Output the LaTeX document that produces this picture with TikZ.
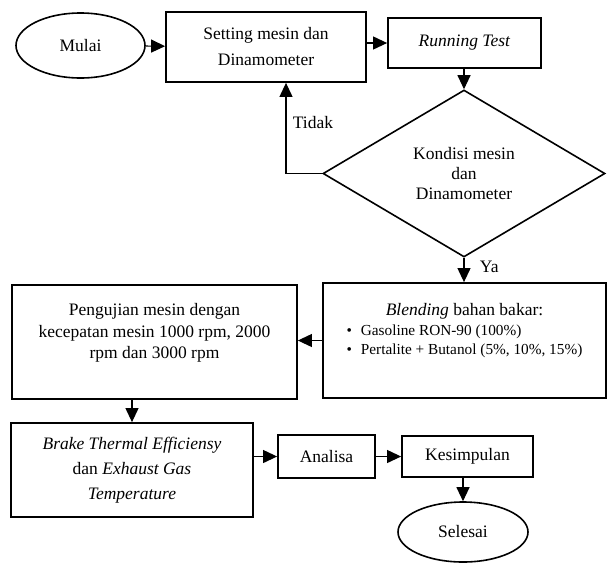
\documentclass[tikz,border=0pt]{standalone}
\usepackage{fontspec}
\setmainfont{Liberation Serif}
\usetikzlibrary{shapes.geometric,arrows.meta}
\newcommand{\itemfont}{\fontsize{15.3}{19}\selectfont}
\begin{document}
\begin{tikzpicture}[x=1pt, y=-1pt,
    every node/.style={font=\fontsize{17.5}{21.5}\selectfont},
    process/.style={draw, line width=1.8pt, align=center, inner sep=2pt},
    terminal/.style={draw, ellipse, line width=1.6pt, inner sep=1pt},
    decision/.style={draw, diamond, line width=1.6pt, align=center, inner sep=1pt},
    flow/.style={line width=1.1pt, -{Triangle[length=14pt, width=13pt]}}]
    \useasboundingbox (0,0) rectangle (607,563);
    % first row
    \node[terminal, minimum width=129, minimum height=65] (mulai) at (80.5,45.5) {Mulai};
    \node[process, minimum width=200, minimum height=70] (setting) at (266,47)
        {Setting mesin dan\\[4.5pt] Dinamometer};
    \node[process, minimum width=153, minimum height=50] (running) at (464.5,43)
        {\textit{Running Test}};
    \node[decision, minimum width=282, minimum height=167] (kondisi) at (464,173.5)
        {Kondisi mesin\\[-1.5pt] dan\\[-1.5pt] Dinamometer};
    % middle row
    \node[process, minimum width=283, minimum height=115] (blending) at (464.5,340.5)
        {\textit{Blending} bahan bakar:\\[-1pt]
         \makebox[236pt][l]{\itemfont\textbullet\hspace{9pt}Gasoline RON-90 (100\%)}\\[-2.5pt]
         \makebox[236pt][l]{\itemfont\textbullet\hspace{9pt}Pertalite + Butanol (5\%, 10\%, 15\%)}\\[2pt]
         \mbox{}};
    \node[process, minimum width=285, minimum height=114] (pengujian) at (154.5,342)
        {Pengujian mesin dengan\\ kecepatan mesin 1000 rpm, 2000\\ rpm dan 3000 rpm\\ \mbox{}};
    % last row
    \node[process, minimum width=242, minimum height=94] (bte) at (132,470)
        {\textit{Brake Thermal Efficiensy}\\[3.5pt] dan \textit{Exhaust Gas}\\[3.5pt] \textit{Temperature}};
    \node[process, minimum width=97, minimum height=43] (analisa) at (326.5,456.5) {Analisa};
    \node[process, minimum width=131, minimum height=41] (kesimpulan) at (467.5,456.5) {Kesimpulan};
    \node[terminal, minimum width=130, minimum height=60] (selesai) at (463,532) {Selesai};
    % connectors
    \draw[flow] (mulai) -- (setting);
    \draw[flow] (running.west -| setting.east) -- (running.west);
    \draw[flow] (kondisi.north |- running.south) -- (kondisi.north);
    \draw[flow] (kondisi.west) -| ([xshift=20]setting.south)
        node[pos=0.78, anchor=west, xshift=3] (tidak) {Tidak};
    \draw[flow] (kondisi.south) -- (blending.north -| kondisi.south)
        node[midway, anchor=west, xshift=12, yshift=3] (ya) {Ya};
    \draw[flow] (blending.west) -- (blending.west -| pengujian.east);
    \draw[flow] (bte.north |- pengujian.south) -- (bte.north);
    \draw[flow] (analisa.west -| bte.east) -- (analisa.west);
    \draw[flow] (analisa) -- (kesimpulan);
    \draw[flow] (selesai.north |- kesimpulan.south) -- (selesai.north);
\end{tikzpicture}
\end{document}
